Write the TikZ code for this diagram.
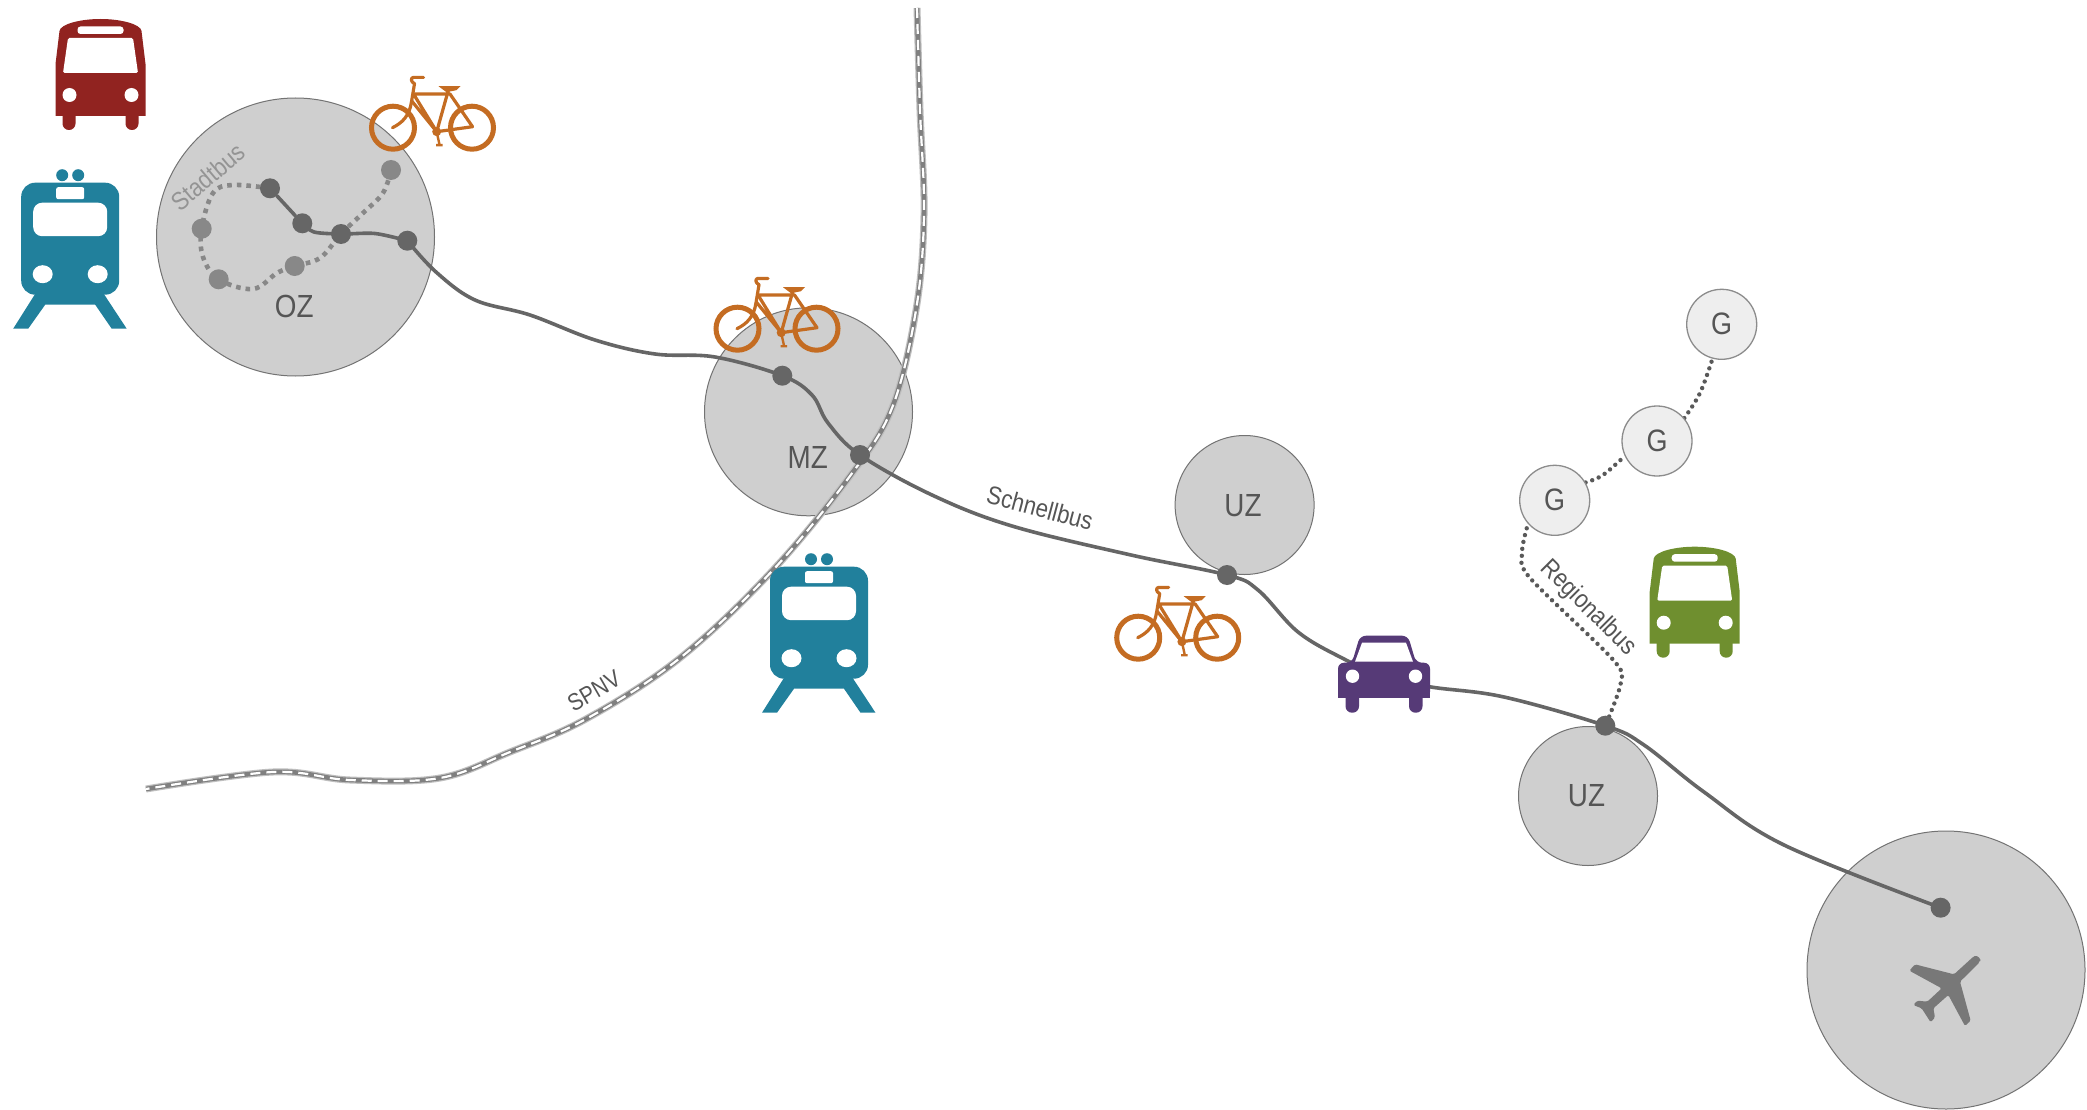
\documentclass[tikz,border=0pt]{standalone}
\usepackage{fontspec}
\setmainfont[FakeStretch=0.87]{Liberation Sans}
\definecolor{cRed}{HTML}{912320}
\definecolor{cTeal}{HTML}{21809C}
\definecolor{cOrange}{HTML}{C46C22}
\definecolor{cPurple}{HTML}{563A77}
\definecolor{cGreen}{HTML}{6F8F2F}
\definecolor{cDark}{HTML}{666666}
\definecolor{cMid}{HTML}{888888}
\definecolor{cText}{HTML}{555555}
\pgfdeclarelayer{circ}\pgfdeclarelayer{rail}\pgfdeclarelayer{conn}
\pgfsetlayers{circ,rail,conn,main}
\tikzset{
  zone/.style={circle,fill=black!19,draw=black!55,line width=1pt,inner sep=0pt,minimum size=#1},
  gnode/.style={circle,fill=black!6.5,draw=black!45,line width=1.3pt,inner sep=0pt,minimum size=70pt,font=\fontsize{31}{31}\selectfont,text=cText},
  dot/.style={circle,fill=cDark,inner sep=0pt,minimum size=20pt},
  gdot/.style={circle,fill=cMid,inner sep=0pt,minimum size=20pt},
  lab/.style={inner sep=0pt,font=\fontsize{32}{32}\selectfont,text=cText},
  small/.style={inner sep=0pt,font=\fontsize{25.5}{26}\selectfont,text=cText},
  mainline/.style={draw=cDark,line width=3.6pt,line cap=round},
  cityline/.style={draw=cMid,line width=4.6pt,dash pattern=on 4.6pt off 5pt},
  regline/.style={draw=black!65,line width=4.4pt,line cap=round,dash pattern=on 0pt off 7pt},
  railbase/.style={draw=black!25,line width=7pt},
  railcore/.style={draw=black!50,line width=4.6pt},
  raildash/.style={draw=white,line width=2.2pt,dash pattern=on 10pt off 6pt},
  pics/busicon/.style={code={
    \fill[#1] (-45,97) -- (-45,45) -- (-41,12) .. controls (-40,5) and (-20,0) .. (0,0)
      .. controls (20,0) and (40,5) .. (41,12) -- (45,45) -- (45,97) -- cycle;
    \fill[#1,rounded corners=6.4pt] (-38,90) rectangle (-25,111);
    \fill[#1,rounded corners=6.4pt] (25,90) rectangle (38,111);
    \fill[white,rounded corners=1.5pt] (-32.5,19) -- (32.5,19) -- (37.5,54) -- (-37.5,54) -- cycle;
    \fill[white,rounded corners=3pt] (-23,7.5) rectangle (23,15);
    \fill[white] (-31,76) circle (7) (31,76) circle (7);
  }},
  pics/trainicon/.style={code={
    \fill[#1] (-8,-7.5) circle (6) (8,-7.5) circle (6);
    \fill[#1,rounded corners=14pt] (-49,0) rectangle (49,112);
    \fill[#1] (-33,108) -- (-57,146) -- (-42,146) -- (-25,122) -- (25,122) -- (41.5,146) -- (56.5,146) -- (31.5,108) -- cycle;
    \fill[white,rounded corners=2pt] (-14,4.5) rectangle (14,16.5);
    \fill[white,rounded corners=9pt] (-37,20) rectangle (37,53.5);
    \fill[white] (-27.5,91.5) ellipse (10 and 9) (27.5,91.5) ellipse (10 and 9);
  }},
  pics/bikeicon/.style={code={
    \draw[#1,line width=5pt] (-39.5,0) circle (21.5) (39.5,0) circle (21.5);
    \draw[#1,line width=3.2pt,line join=round,line cap=round]
      (-9,-50.3) -- (-19,-50.3) .. controls (-22,-50) and (-22,-46) .. (-18,-44) -- (-21,-26)
      .. controls (-23,-12) and (-30,-5) .. (-40,0);
    \draw[#1,line width=3.2pt,line join=round]
      (-19,-33.7) -- (17.5,-33.7) -- (40,-1) -- (4.2,4) -- cycle
      (16,-38) -- (4.2,4) (-21,-27) -- (4.2,4);
    \fill[#1] (6,-41.5) -- (28,-41.5) -- (24,-37.5) -- (14,-35.5) -- cycle;
    \fill[#1] (4.2,4) circle (4.5);
    \draw[#1,line width=2.4pt] (4.2,4) -- (7,17) (3.5,17.5) -- (10,17.5);
  }},
  pics/caricon/.style={code={
    \fill[#1,rounded corners=6pt] (-46,62) -- (-46,27) -- (-32,27) -- (-24,0) -- (24,0) -- (32,27) -- (46,27) -- (46,62) -- cycle;
    \fill[#1] (-46,40) rectangle (46,62);
    \fill[#1,rounded corners=6.4pt] (-38.5,50) rectangle (-25,77);
    \fill[#1,rounded corners=6.4pt] (25,50) rectangle (38.5,77);
    \fill[white] (-29,26) -- (-22,7) -- (22,7) -- (29,26) -- cycle;
    \fill[white] (-31.5,40.5) circle (6.7) (31.5,40.5) circle (6.7);
  }},
}
\begin{document}
\begin{tikzpicture}[x=1pt,y=-1pt]
\useasboundingbox (0,0) rectangle (2087,1110);

% zones
\begin{pgfonlayer}{circ}
\fill[white] (0,0) rectangle (2087,1110);
\node[zone=278pt] (oz) at (295.5,237) {};
\node[zone=208pt] (mz) at (808.5,411.8) {};
\node[zone=139pt] (uza) at (1244.6,505) {};
\node[zone=139pt] (uzb) at (1588,796) {};
\node[zone=278pt] (air) at (1946,970) {};
\end{pgfonlayer}

\node[lab] (tOZ) at (294.3,306.7) {OZ};
\node[lab] (tMZ) at (807.7,457.7) {MZ};
\node[lab] (tUZa) at (1243,506) {UZ};
\node[lab] (tUZb) at (1586.5,796) {UZ};

% stops
\node[dot] (d1) at (270,188.3) {};
\node[dot] (d2) at (302.3,223.3) {};
\node[dot] (d3) at (341,234) {};
\node[dot] (d4) at (407.3,240.7) {};
\node[gdot] (g1) at (391,170) {};
\node[gdot] (g2) at (201.7,228.7) {};
\node[gdot] (g3) at (218.7,279.3) {};
\node[gdot] (g4) at (294.7,266) {};
\node[dot] (d5) at (782.3,375.7) {};
\node[dot] (d6) at (860,455) {};
\node[dot] (d7) at (1227,575) {};
\node[dot] (d8) at (1605.3,725.7) {};
\node[dot] (d9) at (1940.6,907.7) {};

\node[gnode] (G1) at (1721.7,324.3) {G};
\node[gnode] (G2) at (1657,441) {G};
\node[gnode] (G3) at (1554.7,500.3) {G};

% rail
\coordinate (railA) at (917,8);
\coordinate (railB) at (146,789);
\begin{pgfonlayer}{rail}
\foreach \st in {railbase,railcore,raildash}{
\draw[\st] plot[smooth,tension=.6] coordinates {(railA) (920,110) (924,215) (916,310) (892,408) (850,476) (773,570) (680,658) (586,719) (510,752) (440,778) (350,780) (273,772) (railB)};
}
\end{pgfonlayer}

% connectors
\begin{pgfonlayer}{conn}
\draw[mainline] (d1) -- (d2);
\draw[mainline] plot[smooth,tension=.5] coordinates {(d2) (314,232) (d3) (375,233.5) (d4)};
\draw[mainline] plot[smooth,tension=.6] coordinates {(d4) (436,272) (475,300) (530,315) (595,340) (655,354) (715,357) (d5) (812,395) (828,423) (d6) (932,495) (1012,526) (1131,555) (d7) (1258,590) (1298,632) (1344,659) (1384,677) (1431,687) (1504,697) (d8) (1644,745) (1704,792) (1784,845) (d9)};
\draw[cityline] plot[smooth,tension=.6] coordinates {(d1) (233,185) (213,193) (g2) (203,257) (g3) (253,289) (277,273) (g4) (320,258) (d3) (363,213) (383,193) (g1)};
\draw[regline] plot[smooth,tension=.5] coordinates {(1526.7,528.3) (1522,553.3) (1530,578) (1613.3,660) (1620.7,683.3) (d8)};
\draw[regline] plot[smooth,tension=.6] coordinates {(G3.30) (1603,475) (G2.205)};
\draw[regline] plot[smooth,tension=.6] coordinates {(G2.40) (1700,393) (G1.255)};
\end{pgfonlayer}

% labels
\node[small,text=black!42,rotate=40] (tStadt) at (208,177) {Stadtbus};
\node[small,rotate=-15] (tSchnell) at (1040,508) {Schnellbus};
\node[small,rotate=30,font=\fontsize{24}{24}\selectfont] (tSPNV) at (594,691) {SPNV};
\node[small,rotate=-45] (tRegio) at (1588,608) {Regionalbus};

% icons
\pic (busRed) at (100.5,19) {busicon=cRed};
\pic (busGreen) at (1694.7,546.7) {busicon=cGreen};
\pic (trainA) at (70.2,182.7) {trainicon=cTeal};
\pic (trainB) at (819,566.7) {trainicon=cTeal};
\pic (bikeA) at (432.5,127.7) {bikeicon=cOrange};
\pic (bikeB) at (777,328.7) {bikeicon=cOrange};
\pic (bikeC) at (1177.7,637.7) {bikeicon=cOrange};
\pic (car) at (1384,635.7) {caricon=cPurple};
\begin{scope}[shift={(1880,930)},x=0.3333pt,y=-0.3333pt]
\fill[black!53,rounded corners=1.5pt] (298,98) -- (240,155) -- (272,272) -- (255,288) -- (205,195) -- (160,235) -- (165,262) -- (152,277) -- (125,235) -- (100,225) -- (112,212) -- (142,215) -- (185,175) -- (88,122) -- (105,103) -- (222,133) -- (280,80) .. controls (292,75) and (305,88) .. (298,98) -- cycle;
\end{scope}
\end{tikzpicture}
\end{document}
